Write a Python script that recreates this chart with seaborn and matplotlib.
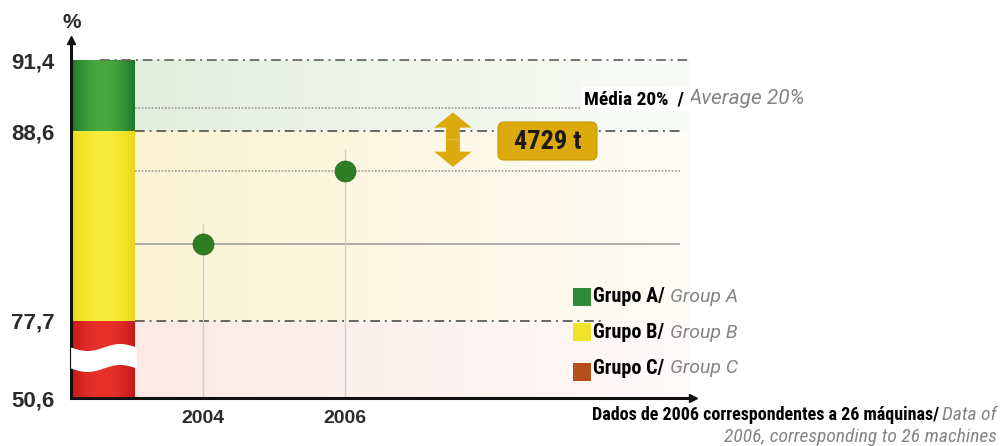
import numpy as np
import matplotlib
matplotlib.use("Agg")
import matplotlib.pyplot as plt
import seaborn as sns
from matplotlib import font_manager
from matplotlib.colors import to_rgb
from matplotlib.patches import Rectangle, FancyArrowPatch, FancyBboxPatch

# ---------------- data ----------------
years = [2004, 2006]
performance = [82.1, 86.3]
group_names = ["Grupo A/", "Grupo B/", "Grupo C/"]
group_names_en = ["Group A", "Group B", "Group C"]
group_low = [88.6, 77.7, 50.6]
group_high = [91.4, 88.6, 77.7]
tick_values = [50.6, 77.7, 88.6, 91.4]
tick_labels = ["50,6", "77,7", "88,6", "91,4"]
average_value = 89.5
average_pt = "Média 20%  / "
average_en = "Average 20%"
gap_label = "4729 t"
note_pt = "Dados de 2006 correspondentes a 26 máquinas/"
note_en_1 = "Data of"
note_en_2 = "2006, corresponding to 26 machines"

# ---------------- style ----------------
sns.set_theme(style="white")
plt.rcParams["font.family"] = ["Liberation Sans", "DejaVu Sans"]
names = {f.name for f in font_manager.fontManager.ttflist}
COND = ["Roboto Condensed", "DejaVu Sans"] if "Roboto Condensed" in names else ["Liberation Sans", "DejaVu Sans"]
WIDE = ["Roboto", "DejaVu Sans"]

band_edge = ["#1c7428", "#e9d612", "#c3161a"]
band_mid = ["#45a83e", "#f7ec3c", "#e8302a"]
bg_colors = ["#e4eedc", "#fbf3d2", "#fbe9e6"]
legend_colors = ["#2e8b3a", "#f1e22b", "#b5501d"]
gray_txt = "#848484"
gold = "#dcaa0c"

W, H = 1004, 446
fig = plt.figure(figsize=(W / 100, H / 100), dpi=100)
fig.patch.set_facecolor("white")


def P(x, y):
    return (x / W, 1 - y / H)


ax = fig.add_axes([71 / W, 1 - 398 / H, 629 / W, 358 / H])
ax.set_facecolor("none")

# piecewise (broken) value axis, as drawn in the original
val_bp = np.array([50.6, 77.7, 88.6, 91.4, 93.0])
pix_bp = np.array([0.0, 77.0, 267.0, 338.0, 378.6])


def fwd(v):
    return np.interp(v, val_bp, pix_bp)


def inv(p):
    return np.interp(p, pix_bp, val_bp)


ax.set_yscale("function", functions=(fwd, inv))
ax.set_ylim(50.6, float(inv(358)))
ax.set_xlim(2002.141, 2011.0)

bar_l, bar_r = 2002.155, 2003.04
line_end = 2010.72

# background gradient bands
xs = np.linspace(bar_r, 2010.86, 41)
for lo, hi, c in zip(group_low, group_high, bg_colors):
    for i in range(40):
        ax.fill_between([xs[i], xs[i + 1]], lo, hi, color=c,
                        alpha=1 - 0.8 * i / 39, lw=0, zorder=0)

# stacked group bar with horizontal shading
n = 30
edges = np.linspace(bar_l, bar_r, n + 1)
centers = (edges[:-1] + edges[1:]) / 2
u = (centers - bar_l) / (bar_r - bar_l)
wgt = np.sin(np.pi * u) ** 0.8
for lo, hi, ce, cm in zip(group_low, group_high, band_edge, band_mid):
    e, m = np.array(to_rgb(ce)), np.array(to_rgb(cm))
    cols = [tuple(e * (1 - w) + m * w) for w in wgt]
    ax.bar(centers, hi - lo, bottom=lo, width=(bar_r - bar_l) / n * 1.05,
           color=cols, lw=0, zorder=2)

# wave break in the red band
wx = np.linspace(bar_l - 0.02, bar_r + 0.02, 80)
t = (wx - wx[0]) / (wx[-1] - wx[0])
wave_top = inv(51 - 3.5 * np.sin(2 * np.pi * t))
wave_bot = inv(30 - 3.5 * np.sin(2 * np.pi * t))
ax.fill_between(wx, wave_bot, wave_top, color="white", lw=0, zorder=3)

# reference lines
dashdot = (0, (5, 2.5, 1, 2.5))
ax.hlines(91.4, 2002.55, 2010.86, color="#666", lw=1.4, linestyles=[dashdot], zorder=2.5, alpha=0.9)
ax.hlines(88.6, bar_r, line_end, color="#666", lw=1.4, linestyles=[dashdot], zorder=1)
ax.hlines(77.7, bar_r, 2009.66, color="#666", lw=1.4, linestyles=[dashdot], zorder=1)
ax.hlines(average_value, bar_r, line_end, color="#999", lw=1.2,
          linestyles=[(0, (1, 1))], zorder=1)
ax.hlines(performance[1], bar_r, line_end, color="#999", lw=1.2,
          linestyles=[(0, (1, 1))], zorder=1)
ax.hlines(performance[0], bar_r, line_end, color="#a0a0a0", lw=1.2, zorder=1)

# vertical guides
for yr, v, ext in zip(years, performance, [20, 22]):
    ax.vlines(yr, 50.6, float(inv(fwd(v) + ext)), color="#cfcfcf", lw=1.0, zorder=1)

# points
sns.scatterplot(x=years, y=performance, ax=ax, s=230, color="#2f7d22",
                edgecolor="#2a6e1e", linewidth=0.5, zorder=5, legend=False)

# double arrow between average and 2006
ax_x = 2007.52
mid = float(inv((fwd(average_value) + fwd(performance[1])) / 2))
for end in (average_value, performance[1]):
    ax.add_patch(FancyArrowPatch((ax_x, mid), (ax_x, end),
                                 arrowstyle="simple,head_length=1.1,head_width=2.7,tail_width=1.0",
                                 mutation_scale=10, color=gold, lw=0,
                                 shrinkA=0, shrinkB=3, zorder=4))

# axes styling
for s in ["top", "right"]:
    ax.spines[s].set_visible(False)
for s in ["left", "bottom"]:
    ax.spines[s].set_color("#111")
    ax.spines[s].set_linewidth(2.2)
ax.spines["bottom"].set_bounds(2002.141, 2010.9)
ax.plot(0, 1, marker="^", color="#111", ms=6, transform=ax.transAxes, clip_on=False)
ax.plot(2010.9, 50.6, marker=">", color="#111", ms=6, clip_on=False)

ax.set_yticks(tick_values)
ax.set_yticklabels(tick_labels, fontweight="bold")
ax.tick_params(axis="y", length=0, pad=12, labelsize=16, labelcolor="#2b2b2b")
ax.set_xticks(years)
ax.set_xticklabels([str(y) for y in years], fontweight="bold")
ax.tick_params(axis="x", length=9, width=1.6, direction="inout", color="#111",
               pad=4, labelsize=14, labelcolor="#2b2b2b")
ax.set_xlabel("")
ax.set_ylabel("")
ax.grid(False)

fig.text(*P(72, 22), "%", ha="center", va="center", fontsize=15,
         fontweight="bold", color="#2b2b2b")

# gap box (pixel-sized rounded box)
bx0, bx1, by0, by1 = 498, 597, 122, 160
fig.add_artist(FancyBboxPatch((bx0 / 100, (H - by1) / 100), (bx1 - bx0) / 100, (by1 - by0) / 100,
                              boxstyle="round,pad=0,rounding_size=0.06",
                              transform=fig.dpi_scale_trans, fc=gold, ec="#c99a08", lw=0.8))
fig.text(*P((bx0 + bx1) / 2, (by0 + by1) / 2 + 1), gap_label, ha="center", va="center",
         fontsize=19, fontweight="bold", color="#1a1a1a", family=COND)

# average label
t1 = fig.text(*P(584, 99), average_pt, ha="left", va="center", fontsize=14,
              fontweight="bold", color="black", family=COND,
              bbox=dict(boxstyle="square,pad=0.15", fc="white", ec="none"))
ax.annotate(average_en, xy=(1, 0.5), xycoords=t1, xytext=(0, 0),
            textcoords="offset points", ha="left", va="center", fontsize=15,
            style="italic", color=gray_txt, annotation_clip=False, family=WIDE)

# legend
sq_y = [297, 332, 372]
tx_y = [297, 333, 368]
for name, en, c, sy, ty in zip(group_names, group_names_en, legend_colors, sq_y, tx_y):
    fig.add_artist(Rectangle(P(573, sy + 9), 18 / W, 18 / H, transform=fig.transFigure,
                             color=c, lw=0))
    tt = fig.text(*P(593, ty), name, ha="left", va="center", fontsize=14.5,
                  fontweight="bold", color="black", family=COND)
    ax.annotate(en, xy=(1, 0.5), xycoords=tt, xytext=(4, 0),
                textcoords="offset points", ha="left", va="center", fontsize=14,
                style="italic", color=gray_txt, annotation_clip=False, family=WIDE)

# bottom note
n1 = fig.text(*P(997, 415), note_en_1, ha="right", va="center", fontsize=14,
              style="italic", color=gray_txt, family=COND)
ax.annotate(note_pt, xy=(0, 0.5), xycoords=n1, xytext=(-2, 0),
            textcoords="offset points", ha="right", va="center", fontsize=13,
            fontweight="bold", color="black", annotation_clip=False, family=COND)
fig.text(*P(997, 437), note_en_2, ha="right", va="center", fontsize=14,
         style="italic", color=gray_txt, family=COND)

fig.savefig("out.png", dpi=100, facecolor="white")
